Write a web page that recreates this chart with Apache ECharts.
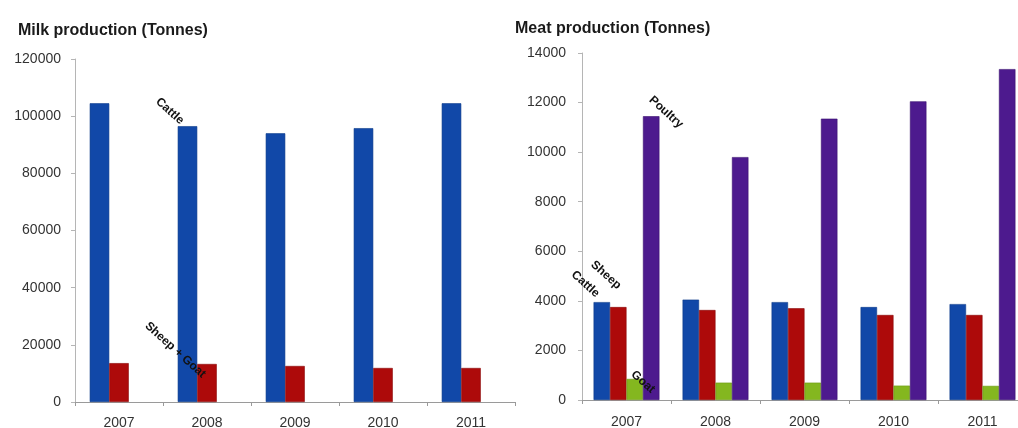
<!DOCTYPE html>
<html>
<head>
<meta charset="utf-8">
<script src="https://cdn.jsdelivr.net/npm/echarts@6/dist/echarts.min.js"></script>
<style>
  html, body { margin: 0; padding: 0; background: #fff; }
  #chart { width: 1018px; height: 428px; }
</style>
</head>
<body>
<div id="chart"></div>
<script>
// data
var years = ["2007", "2008", "2009", "2010", "2011"];

var milkCattle = [104500, 96500, 94000, 95800, 104500];
var milkSheepGoat = [13600, 13300, 12600, 11900, 11900];

var meatCattle = [3950, 4050, 3950, 3750, 3870];
var meatSheep = [3750, 3630, 3700, 3430, 3430];
var meatGoat = [850, 700, 700, 580, 570];
var meatPoultry = [11450, 9800, 11350, 12050, 13350];

var milkTicks = { min: 0, max: 120000, interval: 20000 };
var meatTicks = { min: 0, max: 14000, interval: 2000 };

var BLUE = "#1148a8";
var RED = "#ad0a0a";
var GREEN = "#84b71f";
var PURPLE = "#4d1a8e";
var FONT = "Liberation Sans";

// rotated series name written next to one bar
function tagged(values, index, text, pos) {
  return values.map(function (v, i) {
    if (i !== index) return v;
    return {
      value: v,
      label: {
        show: true,
        formatter: text,
        position: pos,
        rotate: -42,
        align: "center",
        verticalAlign: "middle",
        color: "#111",
        fontFamily: FONT,
        fontWeight: "bold",
        fontSize: 12
      }
    };
  });
}

function barStyle(color, dark) {
  return { color: color, borderColor: dark, borderWidth: 0.6 };
}

function xAxis(idx, margin) {
  return {
    type: "category",
    gridIndex: idx,
    data: years,
    axisLine: { lineStyle: { color: "#9a9a9a", width: 1 } },
    axisTick: { show: true, length: 4, lineStyle: { color: "#9a9a9a" } },
    axisLabel: { color: "#333", fontFamily: FONT, fontSize: 14, margin: margin }
  };
}

function yAxis(idx, t, margin) {
  return {
    type: "value",
    gridIndex: idx,
    min: t.min,
    max: t.max,
    interval: t.interval,
    axisLine: { show: true, lineStyle: { color: "#b5b5b5" } },
    axisTick: { show: true, length: 4, lineStyle: { color: "#b5b5b5" } },
    splitLine: { show: false },
    axisLabel: {
      color: "#333", fontFamily: FONT, fontSize: 14, margin: margin,
      formatter: function (v) { return String(v); }
    }
  };
}

var chart = echarts.init(document.getElementById("chart"));
chart.setOption({
  animation: false,
  backgroundColor: "#fff",
  title: [
    {
      text: "Milk production (Tonnes)",
      left: 13, top: 18,
      textStyle: { fontFamily: FONT, fontWeight: "bold", fontSize: 16, color: "#1a1a1a" }
    },
    {
      text: "Meat production (Tonnes)",
      left: 510, top: 16,
      textStyle: { fontFamily: FONT, fontWeight: "bold", fontSize: 16, color: "#1a1a1a" }
    }
  ],
  grid: [
    { left: 75, top: 59, width: 440, height: 343, containLabel: false, outerBoundsMode: "none" },
    { left: 582, top: 53, width: 445, height: 347, containLabel: false, outerBoundsMode: "none" }
  ],
  xAxis: [xAxis(0, 14), xAxis(1, 15)],
  yAxis: [yAxis(0, milkTicks, 14), yAxis(1, meatTicks, 16)],
  series: [
    {
      name: "Cattle", type: "bar", xAxisIndex: 0, yAxisIndex: 0,
      barGap: "0%", barCategoryGap: "33.5%",
      itemStyle: barStyle(BLUE, "#0b3a8a"),
      data: tagged(milkCattle, 1, "Cattle", [-8, -15])
    },
    {
      name: "Sheep + Goat", type: "bar", xAxisIndex: 0, yAxisIndex: 0,
      itemStyle: barStyle(RED, "#8a0606"),
      data: tagged(milkSheepGoat, 1, "Sheep + Goat", [-22, -14])
    },
    {
      // empty third slot, keeps the milk bars left of the category centre
      name: "", type: "bar", xAxisIndex: 0, yAxisIndex: 0,
      data: years.map(function () { return "-"; })
    },
    {
      name: "Cattle", type: "bar", xAxisIndex: 1, yAxisIndex: 1,
      barGap: "0%", barCategoryGap: "26%",
      itemStyle: barStyle(BLUE, "#0b3a8a"),
      data: tagged(meatCattle, 0, "Cattle", ["-50%", -18])
    },
    {
      name: "Sheep", type: "bar", xAxisIndex: 1, yAxisIndex: 1,
      itemStyle: barStyle(RED, "#8a0606"),
      data: tagged(meatSheep, 0, "Sheep", ["-25%", -32])
    },
    {
      name: "Goat", type: "bar", xAxisIndex: 1, yAxisIndex: 1,
      itemStyle: barStyle(GREEN, "#6c9a14"),
      data: tagged(meatGoat, 0, "Goat", ["100%", 3])
    },
    {
      name: "Poultry", type: "bar", xAxisIndex: 1, yAxisIndex: 1,
      itemStyle: barStyle(PURPLE, "#3b1170"),
      data: tagged(meatPoultry, 0, "Poultry", ["140%", -4])
    }
  ]
});
</script>
</body>
</html>
